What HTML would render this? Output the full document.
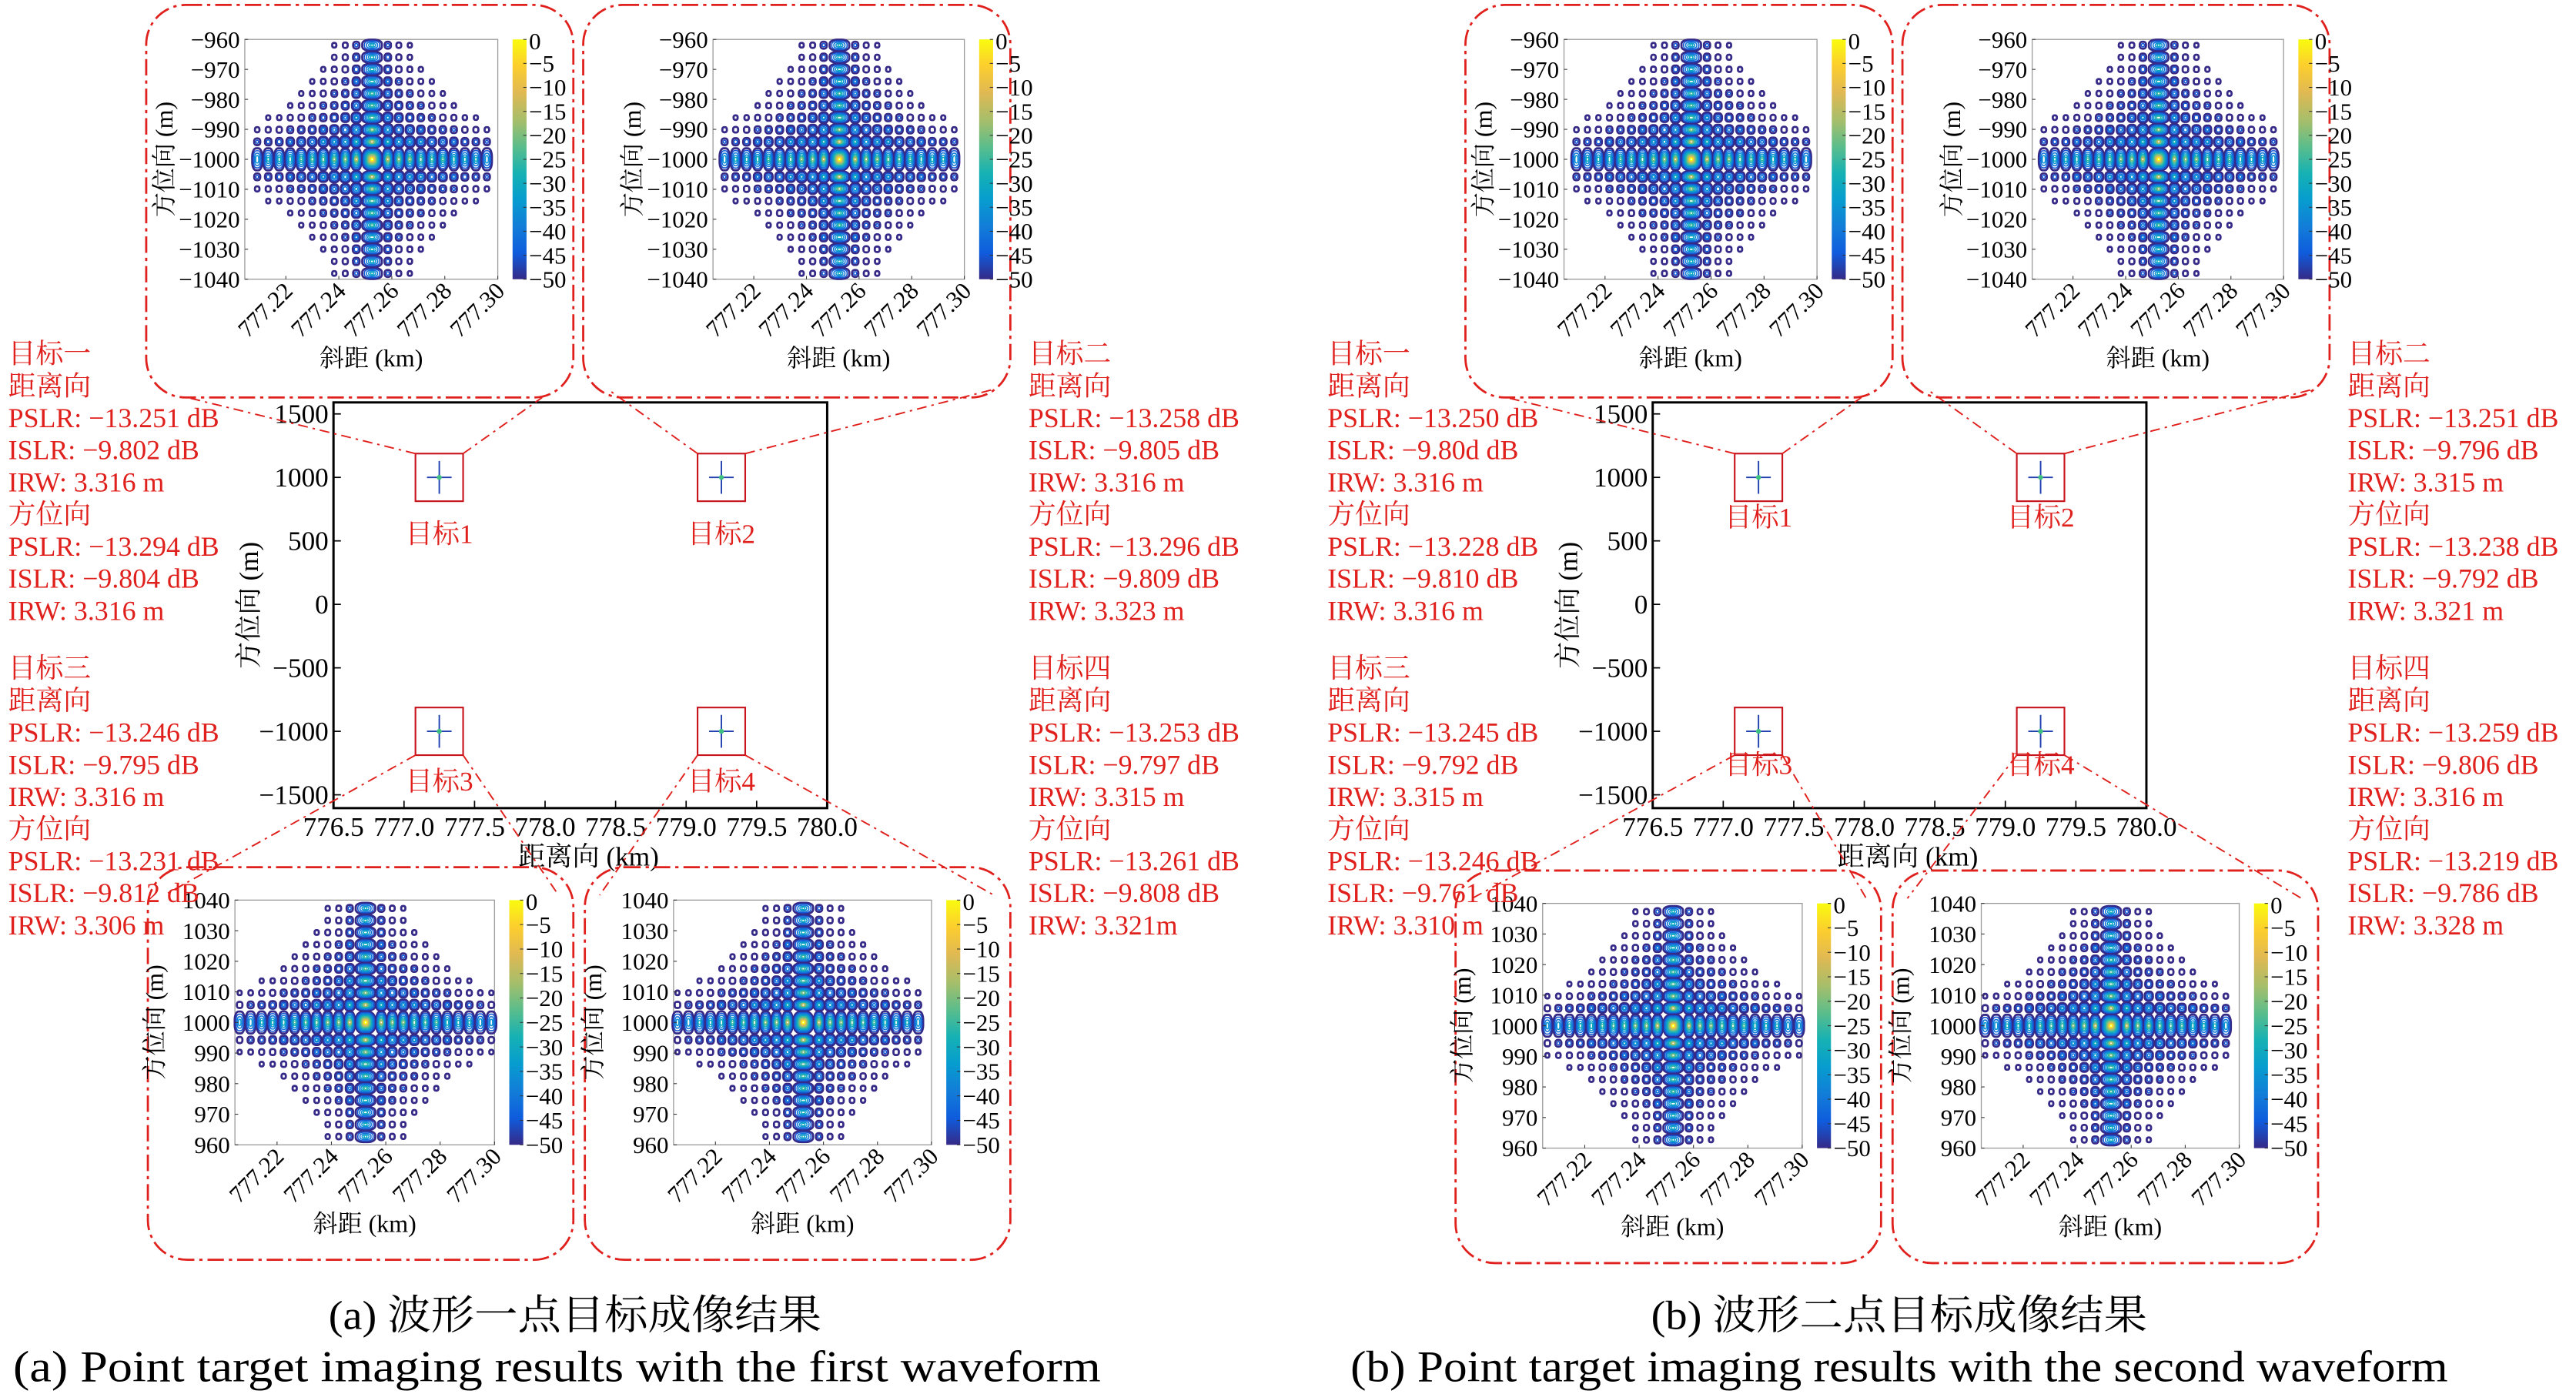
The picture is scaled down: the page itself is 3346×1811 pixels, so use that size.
<!DOCTYPE html>
<html><head><meta charset="utf-8">
<style>
html,body{margin:0;padding:0;background:#fff;}
svg{display:block;}
text{font-family:"Liberation Serif","Noto Serif CJK SC",serif;}
.red{fill:#e0201c;}
</style></head>
<body>
<svg id="fig" xmlns="http://www.w3.org/2000/svg" width="3346" height="1811" viewBox="0 0 1568 848.7" preserveAspectRatio="none">
<defs>
<linearGradient id="parula" x1="0" y1="1" x2="0" y2="0">
<stop offset="0" stop-color="#352a87"/><stop offset="0.11" stop-color="#0f5cdd"/>
<stop offset="0.22" stop-color="#127dd8"/><stop offset="0.33" stop-color="#079ccf"/>
<stop offset="0.44" stop-color="#15b1b4"/><stop offset="0.55" stop-color="#59bd8c"/>
<stop offset="0.66" stop-color="#a5be6b"/><stop offset="0.78" stop-color="#e1b952"/>
<stop offset="0.89" stop-color="#fcce2e"/><stop offset="1" stop-color="#f9fb0e"/>
</linearGradient>
</defs>
</svg>
<script>
// ---- data ----
const rangeLobes = [0,-13.3,-17.5,-19.5,-21.5,-23.0,-24.5,-26.0,-28.0,-29.0,-30.5,-32.0];
const azLobes = [0,-13.3,-17.8,-20.8,-23.1,-24.9,-26.4,-27.7,-28.9,-29.9,-30.8];
const cbarTicks = [0,-5,-10,-15,-20,-25,-30,-35,-40,-45,-50];
const insetXTicks = [777.22,777.24,777.26,777.28,777.30];
const insetYTicksTop = [-960,-970,-980,-990,-1000,-1010,-1020,-1030,-1040];
const insetYTicksBot = [1040,1030,1020,1010,1000,990,980,970,960];
const mainXTicks = [776.5,777.0,777.5,778.0,778.5,779.0,779.5,780.0];
const mainYTicks = [1500,1000,500,0,-500,-1000,-1500];
const targetX = [777.25,779.25,777.25,779.25];
const targetY = [1000,1000,-1000,-1000];
const targetNames = ["目标1","目标2","目标3","目标4"];

const NS="http://www.w3.org/2000/svg";
const svg=document.getElementById('fig');
function el(tag,attrs,parent){const e=document.createElementNS(NS,tag);for(const k in attrs)e.setAttribute(k,attrs[k]);(parent||svg).appendChild(e);return e;}
function txt(s,attrs,parent){const e=el('text',attrs,parent);e.textContent=s;return e;}
const PAR=[[53,42,135],[15,92,221],[18,125,216],[7,156,207],[21,177,180],[89,189,140],[165,190,107],[225,185,82],[252,206,46],[249,251,14]];
function parula(t){t=Math.max(0,Math.min(1,t))*(PAR.length-1);const i=Math.min(PAR.length-2,Math.floor(t)),f=t-i;const c=PAR[i].map((v,k)=>Math.round(v+(PAR[i+1][k]-v)*f));return `rgb(${c[0]},${c[1]},${c[2]})`;}
const RED="#e0201c";

function roundBox(x,y,w,h,name,parent){
  const r=el('rect',{x:x,y:y,width:w,height:h,rx:24,ry:24,fill:'none',stroke:RED,'stroke-width':1.3,'stroke-dasharray':'10 3 2 3'},parent);
  
}
function dline(x1,y1,x2,y2,parent){
  const l=el('line',{x1,y1,x2,y2,stroke:RED,'stroke-width':0.9,'stroke-dasharray':'6 3 1.5 3'},parent);
  
}

function inset(x0,y0,w,h,flip,name,parent){
  const g=el('g',{},parent);
  
  el('rect',{x:x0,y:y0,width:w,height:h,fill:'#fff',stroke:'#999','stroke-width':0.6},g);
  const cg=el('g',{},g);
  
  const cx=x0+w*0.503, cy=y0+h*0.5;
  const colSp=6.7, mainW=12.5, rowSp=7.35, mainH=14;
  const colPos=j=>j===0?cx:cx+Math.sign(j)*(mainW/2+colSp*(Math.abs(j)-0.5));
  const rowPos=i=>i===0?cy:cy+Math.sign(i)*(mainH/2+rowSp*(Math.abs(i)-0.5));
  const NR=azLobes.length-1, NC=rangeLobes.length-1;
  for(let i=-NR;i<=NR;i++){for(let j=-NC;j<=NC;j++){
    const L=azLobes[Math.abs(i)]+rangeLobes[Math.abs(j)];
    if(L<-50)continue;
    const px=colPos(j), py=rowPos(i);
    if(px<x0+1.5||px>x0+w-1.5||py<y0+2||py>y0+h-2)continue;
    const cw=(j===0?mainW:colSp), ch=(i===0?mainH:rowSp);
    const sz=Math.min(1,0.45+0.75*(L+50)/25);
    for(let c=-50;c<=L;c+=5){
      const f=sz*(L-c+4)/(L+54);
      const ww=Math.max(1.6,cw*f-0.6), hh=Math.max(1.6,ch*f-0.6);
      el('rect',{x:px-ww/2,y:py-hh/2,width:ww,height:hh,rx:ww*0.38,ry:hh*0.38,fill:'none',stroke:parula((c+50)/50),'stroke-width':c===-50?1.3:0.75},cg);
    }
  }}
  const yt=flip?insetYTicksBot:insetYTicksTop;
  yt.forEach((v,k)=>{const py=y0+k*h/(yt.length-1);
    el('line',{x1:x0,y1:py,x2:x0+2,y2:py,stroke:'#333','stroke-width':0.5},g);
    const t=txt(String(v).replace('-','−'),{x:x0-3,y:py+5,'font-size':14.5,'text-anchor':'end'},g);
    });
  const xmin=777.2045,xmax=777.30;
  insetXTicks.forEach(v=>{const px=x0+(v-xmin)/(xmax-xmin)*w;
    el('line',{x1:px,y1:y0+h,x2:px,y2:y0+h-2,stroke:'#333','stroke-width':0.5},g);
    const t=txt(v.toFixed(2),{x:0,y:0,'font-size':14.5,'text-anchor':'end',transform:`translate(${px+5},${y0+h+8}) rotate(-45)`},g);
    });
  const yl=txt('方位向 (m)',{x:0,y:0,'font-size':15,'text-anchor':'middle',transform:`translate(${x0-44},${y0+h/2}) rotate(-90)`},g);
  
  const xl=txt('斜距 (km)',{x:x0+w*0.5,y:y0+h+53,'font-size':15,'text-anchor':'middle'},g);
  
  const cbx=x0+w+9;
  const cb=el('rect',{x:cbx,y:y0,width:8.5,height:h,fill:'url(#parula)'},g);
  
  cbarTicks.forEach((v,k)=>{const py=y0+k*h/(cbarTicks.length-1);
    el('line',{x1:cbx+6.5,y1:py,x2:cbx+8.5,y2:py,stroke:'#333','stroke-width':0.5},g);
    const t=txt(v===0?'0':String(v).replace('-','−'),{x:cbx+10,y:py+(k===0?6:5),'font-size':14.5},g);
    });
}

function mainAxes(dx,lblDy,parent){
  const g=el('g',{},parent);
  
  const L=203+dx,R=503.5+dx,T=245,B=492;
  const xPx=v=>L+(v-776.5)*(R-L)/3.5;
  const yPx=v=>252+(1500-v)*0.0773;
  el('rect',{x:L,y:T,width:R-L,height:B-T,fill:'#fff',stroke:'#000','stroke-width':1.4},g);
  mainXTicks.forEach(v=>{const px=xPx(v);
    el('line',{x1:px,y1:B,x2:px,y2:B-4.5,stroke:'#000','stroke-width':0.8},g);
    const t=txt(v.toFixed(1),{x:px,y:509,'font-size':16.5,'text-anchor':'middle'},g);
    });
  mainYTicks.forEach(v=>{const py=yPx(v);
    el('line',{x1:L,y1:py,x2:L+4.5,y2:py,stroke:'#000','stroke-width':0.8},g);
    const t=txt(String(v).replace('-','−'),{x:L-3,y:py+5.5,'font-size':16.5,'text-anchor':'end'},g);
    });
  const yl=txt('方位向 (m)',{x:0,y:0,'font-size':16.5,'text-anchor':'middle',transform:`translate(${L-46},${(T+B)/2}) rotate(-90)`},g);
  
  const xl=txt('距离向 (km)',{x:(L+R)/2+5,y:527,'font-size':16.5,'text-anchor':'middle'},g);
  
  const boxes=[];
  targetX.forEach((v,k)=>{
    const px=xPx(v),py=yPx(targetY[k]);
    const tg=el('g',{},g);
    
    el('rect',{x:px-14.5,y:py-14.5,width:29,height:29,fill:'none',stroke:'#c8141c','stroke-width':1},tg);
    el('line',{x1:px,y1:py-10,x2:px,y2:py+10,stroke:'#2040b0','stroke-width':0.9},tg);
    el('line',{x1:px-7.5,y1:py,x2:px+7.5,y2:py,stroke:'#2040b0','stroke-width':0.9},tg);
    el('circle',{cx:px,cy:py,r:1.5,fill:'#40c080'},tg);
    const lab=txt(targetNames[k],{x:px,y:py+(k<2?40:36)+lblDy,'font-size':16.5,'text-anchor':'middle',class:'red'},tg);
    
    boxes.push([px,py]);
  });
  return boxes;
}

function block(x,y0,lines,name,parent){
  const g=el('g',{},parent);
  
  lines.forEach((s,k)=>{const t=txt(s,{x:x,y:y0+k*19.55,'font-size':16.8,class:'red','xml:space':'preserve'},g);
    });
}

function panel(dx,bdx,bdy,lblDy,texts,caps,name){
  const g=el('g',{});
  
  const boxes=mainAxes(dx,lblDy,g);
  roundBox(89+dx,3,260,239,'zoom-frame-target1',g);
  roundBox(355+dx,3,260,239,'zoom-frame-target2',g);
  roundBox(90+bdx,528+bdy,259,239,'zoom-frame-target3',g);
  roundBox(356+bdx,528+bdy,259,239,'zoom-frame-target4',g);
  inset(149+dx,24,154,146,false,'zoom-target1',g);
  inset(434+dx,24,153,146,false,'zoom-target2',g);
  inset(143+bdx,548+bdy,158,149,true,'zoom-target3',g);
  inset(410+bdx,548+bdy,157,149,true,'zoom-target4',g);
  const h=14.5;
  dline(boxes[0][0]-h,boxes[0][1]-h,114+dx,242,g);
  dline(boxes[0][0]+h,boxes[0][1]-h,330+dx,242,g);
  dline(boxes[1][0]-h,boxes[1][1]-h,370+dx,237,g);
  dline(boxes[1][0]+h,boxes[1][1]-h,605+dx,237,g);
  dline(boxes[2][0]-h,boxes[2][1]+h,100+bdx,545+bdy,g);
  dline(boxes[2][0]+h,boxes[2][1]+h,340+bdx,545+bdy,g);
  dline(boxes[3][0]-h,boxes[3][1]+h,365+bdx,545+bdy,g);
  dline(boxes[3][0]+h,boxes[3][1]+h,605+bdx,545+bdy,g);
  block(5+dx,221,texts[0],'metrics-target1',g);
  block(5+dx,412.5,texts[1],'metrics-target3',g);
  block(626+dx,221,texts[2],'metrics-target2',g);
  block(626+dx,412.5,texts[3],'metrics-target4',g);
  const c1=txt(caps[0],{x:caps[2],y:809,'font-size':25,'text-anchor':'middle',textLength:caps[4],lengthAdjust:'spacingAndGlyphs'},g);
  
  const c2=txt(caps[1],{x:caps[3],y:841,'font-size':27,'text-anchor':'middle',textLength:caps[5],lengthAdjust:'spacingAndGlyphs'},g);
  
}

const M='−';
panel(0,0,0,0,[
 ['目标一','距离向',`PSLR: ${M}13.251 dB`,`ISLR: ${M}9.802 dB`,'IRW: 3.316 m','方位向',`PSLR: ${M}13.294 dB`,`ISLR: ${M}9.804 dB`,'IRW: 3.316 m'],
 ['目标三','距离向',`PSLR: ${M}13.246 dB`,`ISLR: ${M}9.795 dB`,'IRW: 3.316 m','方位向',`PSLR: ${M}13.231 dB`,`ISLR: ${M}9.812 dB`,'IRW: 3.306 m'],
 ['目标二','距离向',`PSLR: ${M}13.258 dB`,`ISLR: ${M}9.805 dB`,'IRW: 3.316 m','方位向',`PSLR: ${M}13.296 dB`,`ISLR: ${M}9.809 dB`,'IRW: 3.323 m'],
 ['目标四','距离向',`PSLR: ${M}13.253 dB`,`ISLR: ${M}9.797 dB`,'IRW: 3.315  m','方位向',`PSLR: ${M}13.261 dB`,`ISLR: ${M}9.808 dB`,'IRW: 3.321m']
],['(a) 波形一点目标成像结果','(a) Point target imaging results with the first waveform',350,339,300,662],'panel-a');

panel(803,796,2,-10,[
 ['目标一','距离向',`PSLR: ${M}13.250 dB`,`ISLR: ${M}9.80d dB`,'IRW: 3.316 m','方位向',`PSLR: ${M}13.228 dB`,`ISLR: ${M}9.810 dB`,'IRW: 3.316 m'],
 ['目标三','距离向',`PSLR: ${M}13.245 dB`,`ISLR: ${M}9.792 dB`,'IRW: 3.315 m','方位向',`PSLR: ${M}13.246 dB`,`ISLR: ${M}9.761 dB`,'IRW: 3.310 m'],
 ['目标二','距离向',`PSLR: ${M}13.251 dB`,`ISLR: ${M}9.796 dB`,'IRW: 3.315 m','方位向',`PSLR: ${M}13.238 dB`,`ISLR: ${M}9.792 dB`,'IRW: 3.321 m'],
 ['目标四','距离向',`PSLR: ${M}13.259 dB`,`ISLR: ${M}9.806 dB`,'IRW: 3.316 m','方位向',`PSLR: ${M}13.219 dB`,`ISLR: ${M}9.786 dB`,'IRW: 3.328 m']
],['(b) 波形二点目标成像结果','(b) Point target imaging results with the second waveform',1156,1156,302,668],'panel-b');
</script>
</body></html>
